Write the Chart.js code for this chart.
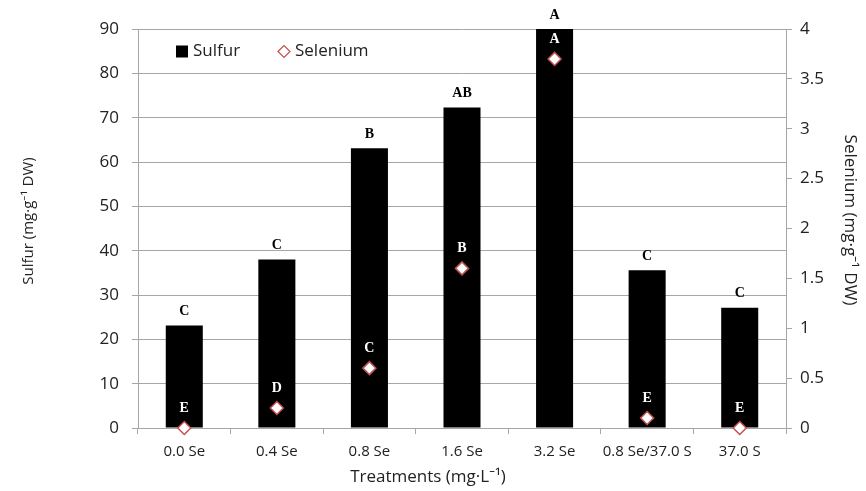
<!DOCTYPE html>
<html>
<head>
<meta charset="utf-8">
<script src="https://cdn.jsdelivr.net/npm/chart.js@4/dist/chart.umd.min.js"></script>
<style>
  html, body { margin: 0; padding: 0; background: #fff; }
  #wrap { width: 866px; height: 491px; }
</style>
</head>
<body>
<div id="wrap"><canvas id="c" width="866" height="491"></canvas></div>
<script>
const categories = ['0.0 Se', '0.4 Se', '0.8 Se', '1.6 Se', '3.2 Se', '0.8 Se/37.0 S', '37.0 S'];
const sulfurValues = [23.1, 38.0, 63.1, 72.3, 90.0, 35.6, 27.1];
const seleniumValues = [0.0, 0.2, 0.6, 1.6, 3.7, 0.1, 0.0];
const sulfurLetters = ['C', 'C', 'B', 'AB', 'A', 'C', 'C'];
const seleniumLetters = ['E', 'D', 'C', 'B', 'A', 'E', 'E'];
const sulfurTicks = [0, 10, 20, 30, 40, 50, 60, 70, 80, 90];
const seleniumTicks = [0, 0.5, 1, 1.5, 2, 2.5, 3, 3.5, 4];

const FONT = "'Open Sans', 'Noto Sans', sans-serif";
const GRID = '#a6a6a6';
const TXT = '#222222';
const DIAMOND = '#c0504d';
const EM = '\u2003';

const lettersPlugin = {
  id: 'letters',
  afterDatasetsDraw(chart) {
    const ctx = chart.ctx;
    const x = chart.scales.x, y = chart.scales.y, y1 = chart.scales.y1;
    ctx.save();
    ctx.font = "bold 14px 'Liberation Serif', 'DejaVu Serif', serif";
    ctx.textAlign = 'center';
    ctx.textBaseline = 'middle';
    categories.forEach((c, i) => {
      const cx = x.getPixelForValue(i);
      ctx.fillStyle = '#000';
      ctx.fillText(sulfurLetters[i], cx, y.getPixelForValue(sulfurValues[i]) - 14);
      ctx.fillStyle = '#fff';
      ctx.fillText(seleniumLetters[i], cx, y1.getPixelForValue(seleniumValues[i]) - 20);
    });
    ctx.restore();
  }
};

const legendPlugin = {
  id: 'customLegend',
  afterDraw(chart) {
    const ctx = chart.ctx;
    const a = chart.chartArea;
    const ly = a.top + 22.5;
    ctx.save();
    ctx.fillStyle = '#000';
    ctx.fillRect(a.left + 38, ly - 6, 12, 12);
    ctx.font = '17px ' + FONT;
    ctx.textBaseline = 'middle';
    ctx.textAlign = 'left';
    ctx.fillStyle = TXT;
    ctx.fillText(chart.data.datasets[0].label, a.left + 55, ly);
    const dx = a.left + 146;
    ctx.beginPath();
    ctx.moveTo(dx - 6, ly); ctx.lineTo(dx, ly - 6); ctx.lineTo(dx + 6, ly); ctx.lineTo(dx, ly + 6); ctx.closePath();
    ctx.fillStyle = '#fff'; ctx.fill();
    ctx.strokeStyle = DIAMOND; ctx.lineWidth = 1.2; ctx.stroke();
    ctx.fillStyle = TXT;
    ctx.fillText(chart.data.datasets[1].label, a.left + 157, ly);
    ctx.restore();
  }
};

new Chart(document.getElementById('c'), {
  type: 'bar',
  data: {
    labels: categories,
    datasets: [
      {
        label: 'Sulfur',
        data: sulfurValues,
        yAxisID: 'y',
        backgroundColor: '#000',
        borderWidth: 0,
        barPercentage: 1.0,
        categoryPercentage: 0.4,
        order: 2
      },
      {
        label: 'Selenium',
        type: 'line',
        data: seleniumValues,
        yAxisID: 'y1',
        showLine: false,
        pointStyle: 'rectRot',
        pointRadius: 6.5,
        pointBackgroundColor: '#fff',
        pointBorderColor: DIAMOND,
        pointBorderWidth: 1.5,
        order: 1,
        clip: false
      }
    ]
  },
  options: {
    responsive: false,
    animation: false,
    layout: { padding: { top: 29, left: 0, right: 0, bottom: 0 } },
    plugins: { legend: { display: false }, tooltip: { enabled: false } },
    scales: {
      x: {
        type: 'category',
        grid: { offset: true, drawOnChartArea: false, drawTicks: true, tickLength: 6, color: GRID },
        border: { color: GRID },
        ticks: { font: { family: FONT, size: 15 }, color: TXT, padding: 9, maxRotation: 0, autoSkip: false },
        title: { display: true, text: 'Treatments (mg·L⁻¹)' + EM + EM + EM + EM, font: { family: FONT, size: 17 }, color: TXT, padding: { top: 2, bottom: 4 } },
        afterFit(s) { s.height = 63; }
      },
      y: {
        position: 'left',
        min: 0, max: 90,
        afterBuildTicks(s) { s.ticks = sulfurTicks.map(v => ({ value: v })); },
        grid: { color: GRID, tickLength: 6 },
        border: { color: GRID },
        ticks: { font: { family: FONT, size: 17 }, color: TXT, padding: 13 },
        title: { display: true, text: EM + 'Sulfur (mg·g⁻¹ DW)', font: { family: FONT, size: 15 }, color: TXT, padding: { top: 20, bottom: 0 } },
        afterFit(s) { s.width = 138; }
      },
      y1: {
        position: 'right',
        min: 0, max: 4,
        afterBuildTicks(s) { s.ticks = seleniumTicks.map(v => ({ value: v })); },
        grid: { drawOnChartArea: false, color: GRID, tickLength: 6 },
        border: { color: GRID },
        ticks: { font: { family: FONT, size: 17 }, color: TXT, padding: 8, callback: v => String(v) },
        title: { display: true, text: 'Selenium (mg·g⁻¹ DW)' + EM, font: { family: FONT, size: 17 }, color: TXT, padding: { top: 6, bottom: 0 } },
        afterFit(s) { s.width = 80; }
      }
    }
  },
  plugins: [lettersPlugin, legendPlugin]
});
</script>
</body>
</html>
